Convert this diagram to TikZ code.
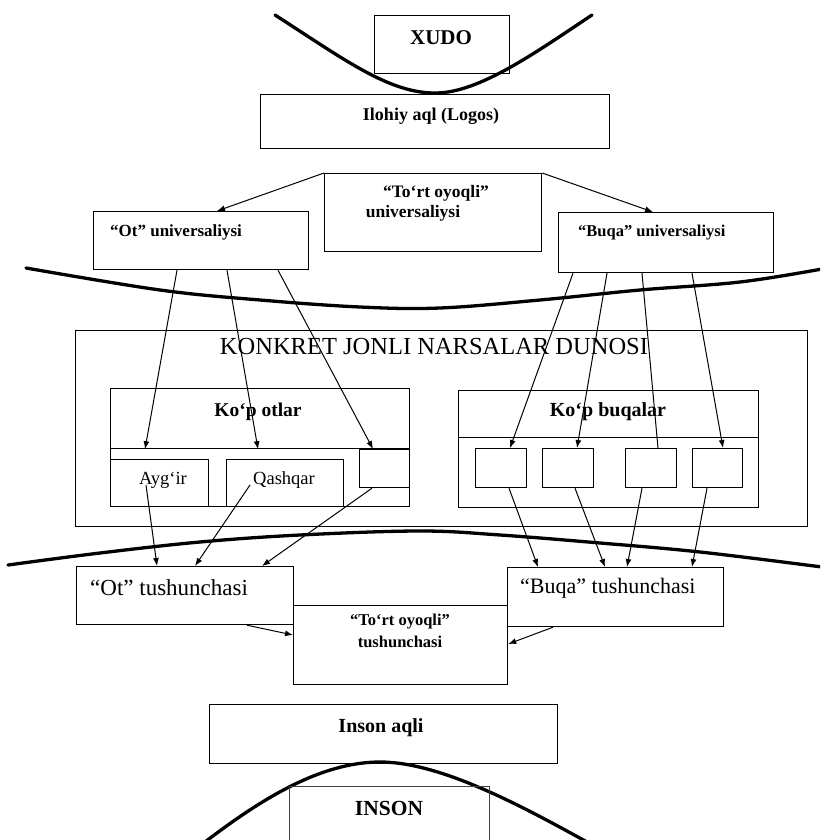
\documentclass[tikz,border=0pt]{standalone}
\usepackage{fontspec}
\setmainfont{Liberation Serif}
\usetikzlibrary{arrows.meta,calc}
\newcommand\fs[1]{\fontsize{#1}{#1}\selectfont}
\begin{document}
\begin{tikzpicture}[x=1pt,y=-1pt,
  box/.style={draw=black, line width=1.2pt, inner sep=0pt, anchor=north west},
  arr/.style={line width=1pt, -{Latex[length=8pt,width=6pt]}},
  ln/.style={line width=1pt},
  curve/.style={line width=3.3pt, line cap=round},
  txt/.style={inner sep=0pt},
]
\clip (0,0) rectangle (820,840);
\fill[white] (0,0) rectangle (820,840);

% thick curves
\draw[curve] (275,15) .. controls (345,60) and (390,94) .. (437,93)
             .. controls (480,92) and (535,53) .. (592,15);
\draw[curve] plot[smooth, tension=0.6] coordinates {(26,268) (160,290) (260,300) (360,307) (440,308) (540,300) (640,290) (740,282) (822,269)};
\draw[curve] plot[smooth, tension=0.6] coordinates {(8,565) (100,553) (200,542) (300,535) (420,531) (500,535) (600,543) (700,552) (822,567)};
\draw[curve] (205,842) .. controls (260,800) and (320,762) .. (380,762)
             .. controls (440,762) and (520,805) .. (587,842);

% boxes
\node[box, minimum width=135pt, minimum height=58pt] (xudo) at (374,15) {};
\node[box, minimum width=349pt, minimum height=54pt] (logos) at (260,94) {};
\node[box, minimum width=217pt, minimum height=78pt] (tortU) at (324,173) {};
\node[box, minimum width=215pt, minimum height=58pt] (otU) at (93,211) {};
\node[box, minimum width=215pt, minimum height=60pt] (buqaU) at (558,212) {};
\node[box, minimum width=732pt, minimum height=196pt] (konkret) at (75,330) {};
\node[box, minimum width=299pt, minimum height=118pt] (otlar) at (110,388) {};
\node[box, minimum width=299pt, minimum height=60pt] (otlarTop) at (110,388) {};
\node[box, minimum width=98pt, minimum height=47pt] (aygir) at (110,459) {};
\node[box, minimum width=117pt, minimum height=47pt] (qashqar) at (226,459) {};
\node[box, minimum width=50pt, minimum height=38pt] (os) at (359,449) {};
\node[box, minimum width=300pt, minimum height=117pt] (buqalar) at (458,390) {};
\node[box, minimum width=300pt, minimum height=47pt] (buqalarTop) at (458,390) {};
\node[box, minimum width=51pt, minimum height=39pt] (b1) at (475,448) {};
\node[box, minimum width=51pt, minimum height=39pt] (b2) at (542,448) {};
\node[box, minimum width=51pt, minimum height=39pt] (b3) at (625,448) {};
\node[box, minimum width=50pt, minimum height=39pt] (b4) at (692,448) {};
\node[box, minimum width=217pt, minimum height=58pt] (otT) at (76,566) {};
\node[box, minimum width=214pt, minimum height=79pt] (tortT) at (293,605) {};
\node[box, minimum width=216pt, minimum height=59pt] (buqaT) at (507,567) {};
\node[box, minimum width=348pt, minimum height=59pt] (insonAqli) at (209,704) {};
\node[box, draw=black!75, line width=0.8pt, minimum width=200pt, minimum height=80pt] (inson) at (289,786) {};

% texts
\node[txt] (t_xudo) at (441,38) {\fs{21}\bfseries XUDO};
\node[txt] (t_logos) at (431,116) {\fs{18}\bfseries Ilohiy aql (Logos)};
\node[txt] (t_tortU1) at (436,193) {\fs{17.5}\bfseries “To‘rt oyoqli”};
\node[txt] (t_tortU2) at (413,213) {\fs{17.5}\bfseries universaliysi};
\node[txt, anchor=west] (t_otU) at (110,232) {\fs{17}\bfseries “Ot” universaliysi};
\node[txt, anchor=west] (t_buqaU) at (578,233) {\fs{16.5}\bfseries “Buqa” universaliysi};
\node[txt] (t_konkret) at (434,347) {\fs{24.5}KONKRET JONLI NARSALAR DUNOSI};
\node[txt] (t_otlar) at (258,412) {\fs{19.5}\bfseries Ko‘p otlar};
\node[txt] (t_buqalar) at (608,412) {\fs{20}\bfseries Ko‘p buqalar};
\node[txt] (t_aygir) at (163,480) {\fs{18.5}Ayg‘ir};
\node[txt] (t_qashqar) at (284,480) {\fs{18.5}Qashqar};
\node[txt, anchor=west] (t_otT) at (90,588) {\fs{23}“Ot” tushunchasi};
\node[txt, anchor=west] (t_buqaT) at (520,588) {\fs{22}“Buqa” tushunchasi};
\node[txt] (t_tortT1) at (400,622) {\fs{16.5}\bfseries “To‘rt oyoqli”};
\node[txt] (t_tortT2) at (400,642) {\fs{16.5}\bfseries tushunchasi};
\node[txt] (t_insonAqli) at (381,728) {\fs{20}\bfseries Inson aqli};
\node[txt] (t_inson) at (389,808) {\fs{21.5}\bfseries INSON};

% connectors
\draw[arr] (tortU.north west) -- ($(otU.north west)+(124,0)$);
\draw[arr] (tortU.north east) -- ($(buqaU.north west)+(95,0)$);
\draw[arr] ($(otU.south west)+(84,0)$) -- ($(otlarTop.south west)+(35,0)$);
\draw[arr] ($(otU.south west)+(134,0)$) -- ($(otlarTop.south west)+(148,0)$);
\draw[arr] ($(otU.south west)+(185,0)$) -- ($(os.north west)+(14,0)$);
\draw[arr] ($(buqaU.south west)+(15,0)$) -- ($(b1.north west)+(35,0)$);
\draw[arr] ($(buqaU.south west)+(49,0)$) -- ($(b2.north west)+(35,0)$);
\draw[ln] ($(buqaU.south west)+(84,0)$) -- ($(b3.north west)+(33,0)$);
\draw[arr] ($(buqaU.south west)+(134,0)$) -- ($(b4.north west)+(31,0)$);
\draw[arr] ($(aygir.north west)+(36,26)$) -- ($(otT.north west)+(81,0)$);
\draw[arr] ($(qashqar.north west)+(24,26)$) -- ($(otT.north west)+(119,0)$);
\draw[arr] ($(os.south west)+(13,0)$) -- ($(otT.north west)+(186,0)$);
\draw[arr] ($(b1.south west)+(34,0)$) -- ($(buqaT.north west)+(31,0)$);
\draw[arr] ($(b2.south west)+(33,0)$) -- ($(buqaT.north west)+(98,0)$);
\draw[arr] ($(b3.south west)+(17,0)$) -- ($(buqaT.north west)+(120,0)$);
\draw[arr] ($(b4.south west)+(15,0)$) -- ($(buqaT.north west)+(185,0)$);
\draw[arr] ($(otT.south west)+(171,0)$) -- ($(tortT.north west)+(0,30)$);
\draw[arr] ($(buqaT.south west)+(46,0)$) -- ($(tortT.north east)+(0,39)$);
\end{tikzpicture}
\end{document}
